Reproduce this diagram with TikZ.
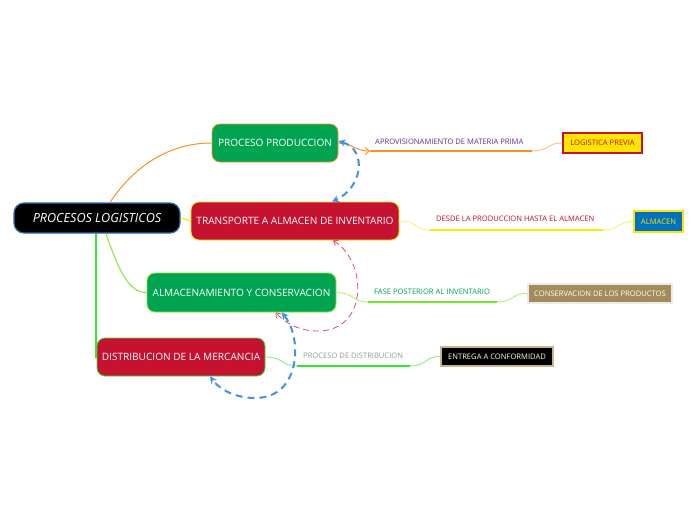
\documentclass[tikz,border=0pt]{standalone}
\usepackage{fontspec}
\setmainfont{Open Sans}
\usetikzlibrary{arrows.meta}
\definecolor{cgreen}{RGB}{0,163,80}
\definecolor{ccrim}{RGB}{196,18,48}
\definecolor{corange}{RGB}{247,148,29}
\definecolor{corangel}{RGB}{251,200,140}
\definecolor{cyel}{RGB}{240,240,0}
\definecolor{cyell}{RGB}{245,245,120}
\definecolor{clgreen}{RGB}{140,230,50}
\definecolor{clgreenl}{RGB}{185,240,130}
\definecolor{cbgreen}{RGB}{50,230,50}
\definecolor{cbgreenl}{RGB}{150,240,150}
\definecolor{cblue}{RGB}{66,145,230}
\definecolor{cred}{RGB}{225,80,95}
\definecolor{cpurple}{RGB}{102,45,145}
\definecolor{cgold}{RGB}{255,230,0}
\definecolor{cazul}{RGB}{0,113,188}
\definecolor{cbrown}{RGB}{163,139,90}
\definecolor{ctan}{RGB}{200,180,140}
\definecolor{cgray}{RGB}{150,155,160}
\definecolor{croot}{RGB}{40,110,180}
\tikzset{
  mainbox/.style={rounded corners=8pt, line width=0.8pt, text=white, font=\fontsize{10.1}{12}\selectfont, inner sep=0pt},
  rootbox/.style={rounded corners=10pt, fill=black, draw=croot, line width=1.2pt, text=white, font=\fontsize{12.6}{14}\selectfont\itshape, inner sep=0pt},
  sidebox/.style={line width=1.2pt, inner sep=0pt, font=\fontsize{7.6}{9}\selectfont},
  lbl/.style={inner sep=0pt, anchor=west, font=\fontsize{7.6}{9}\selectfont},
  dashblue/.style={cblue, line width=2pt, dash pattern=on 7pt off 5pt, {Stealth[length=7pt,width=7pt]}-{Stealth[length=7pt,width=7pt]}},
  dashred/.style={cred, line width=0.8pt, dash pattern=on 6pt off 4pt, {Straight Barb[length=4pt,width=6pt]}-{Straight Barb[length=4pt,width=6pt]}}
}
\begin{document}
\begin{tikzpicture}[x=1pt,y=-1pt]
\useasboundingbox[fill=white] (0,0) rectangle (696,520);

% main nodes
\node[rootbox, minimum width=166pt, minimum height=30pt] (root) at (97,218) {PROCESOS LOGISTICOS};
\node[mainbox, fill=cgreen, draw=corange, minimum width=126pt, minimum height=38pt] (pp) at (275,143) {PROCESO PRODUCCION};
\node[mainbox, fill=ccrim, draw=cyel, minimum width=208pt, minimum height=38pt] (tr) at (295,221) {TRANSPORTE A ALMACEN DE INVENTARIO};
\node[mainbox, fill=cgreen, draw=clgreen, minimum width=189pt, minimum height=39pt] (alm) at (241.5,292.5) {ALMACENAMIENTO Y CONSERVACION};
\node[mainbox, fill=ccrim, draw=cbgreen, minimum width=168pt, minimum height=38pt] (dist) at (181,357) {DISTRIBUCION DE LA MERCANCIA};

% side boxes
\node[sidebox, fill=cgold, draw=ccrim, text=ccrim, minimum width=79pt, minimum height=20pt] (lp) at (602.5,143) {LOGISTICA PREVIA};
\node[sidebox, fill=cazul, draw=cgold, text=cgold, minimum width=49pt, minimum height=21pt] (alc) at (658.5,221.5) {ALMACEN};
\node[sidebox, fill=cbrown, draw=black!8, text=white, minimum width=144pt, minimum height=19pt] (cons) at (600,293.5) {CONSERVACION DE LOS PRODUCTOS};
\node[sidebox, fill=black, draw=ctan, text=yellow!15, minimum width=112pt, minimum height=19pt] (ent) at (497,356.5) {ENTREGA A CONFORMIDAD};

% root connectors
\draw[corange, line width=1pt] ([xshift=13pt]root.north) .. controls (135,165) and (170,143) .. (pp.west);
\draw[cyel, line width=1.2pt] (root.east) -- (tr.west);
\draw[clgreen, line width=1pt] ([xshift=9pt]root.south) .. controls (118,268) and (128,293) .. (alm.west);
\draw[cbgreen, line width=1.8pt] ([xshift=-1pt]root.south) |- (dist.west);

% label connectors
\coordinate (u1s) at (370,151); \coordinate (u1e) at (532,151);
\draw[corange, line width=1pt, -{Straight Barb[length=4pt,width=7pt]}] (pp.east) .. controls (352,143) and (355,151) .. (u1s);
\draw[corange, line width=1.5pt] (u1s) -- (u1e);
\draw[corangel, line width=1pt] (u1e) .. controls (550,151) and (546,143) .. (lp.west);
\node[lbl, text=cpurple] (l1) at (375,142) {APROVISIONAMIENTO DE MATERIA PRIMA};

\coordinate (u2s) at (430,230); \coordinate (u2e) at (603,230);
\draw[cyell, line width=1pt] (tr.east) .. controls (418,221) and (414,230) .. (u2s);
\draw[cyel, line width=1.5pt] (u2s) -- (u2e);
\draw[cyell, line width=1pt] (u2e) .. controls (620,230) and (618,221) .. (alc.west);
\node[lbl, text=ccrim] (l2) at (436,219) {DESDE LA PRODUCCION HASTA EL ALMACEN};

\coordinate (u3s) at (368,302); \coordinate (u3e) at (497,302);
\draw[clgreenl, line width=1pt] (alm.east) .. controls (355,293) and (352,302) .. (u3s);
\draw[clgreen!80!green, line width=1.5pt] (u3s) -- (u3e);
\draw[clgreenl, line width=1pt] (u3e) .. controls (514,302) and (512,293) .. (cons.west);
\node[lbl, text=cgreen] (l3) at (374,292) {FASE POSTERIOR AL INVENTARIO};

\coordinate (u4s) at (297,366); \coordinate (u4e) at (410,366);
\draw[cbgreenl, line width=1pt] (dist.east) .. controls (284,357) and (281,366) .. (u4s);
\draw[cbgreen, line width=1.5pt] (u4s) -- (u4e);
\draw[cbgreenl, line width=1pt] (u4e) .. controls (427,366) and (425,356) .. (ent.west);
\node[lbl, text=cgray] (l4) at (303,356) {PROCESO DE DISTRIBUCION};

% dashed relationship arrows
\draw[dashblue] ([yshift=2pt]pp.east) .. controls (368,150) and (362,188) .. ([xshift=37pt]tr.north);
\draw[dashred] ([xshift=38pt]tr.south) .. controls (368,262) and (368,331) .. (318,331) .. controls (300,331) and (286,324) .. ([xshift=34pt]alm.south);
\draw[dashblue] ([xshift=40pt]alm.south) .. controls (302,336) and (302,398) .. (255,398) .. controls (236,398) and (220,390) .. ([xshift=29pt]dist.south);
\end{tikzpicture}
\end{document}
